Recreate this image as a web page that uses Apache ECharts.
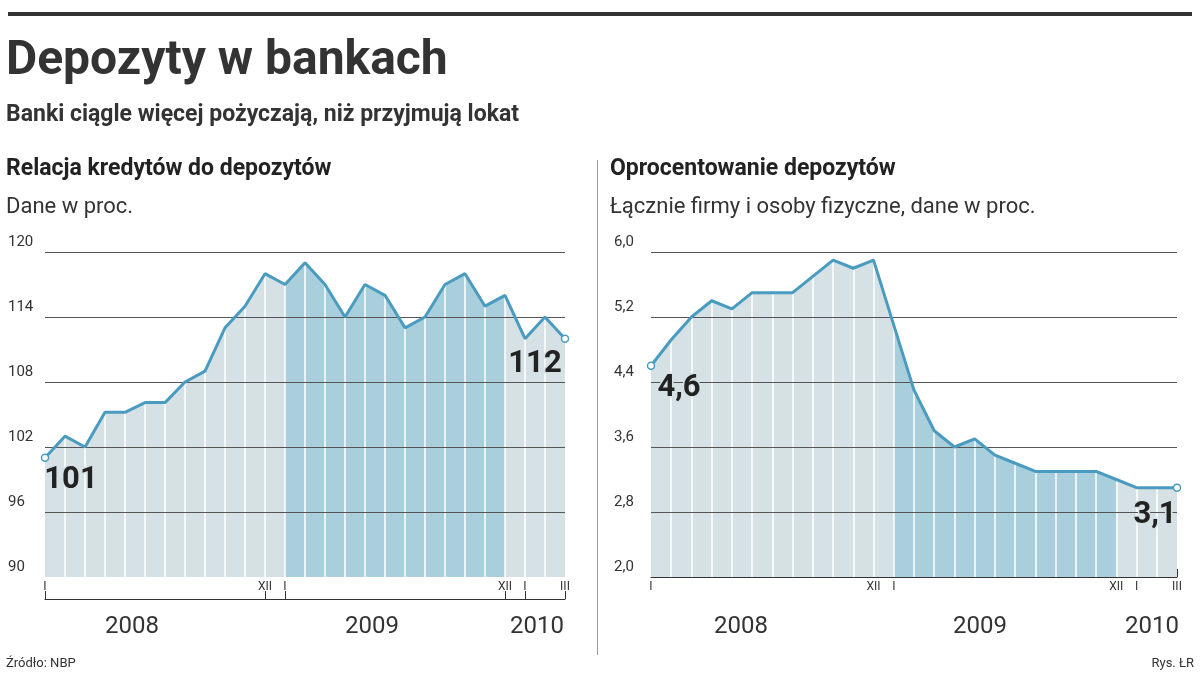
<!DOCTYPE html>
<html><head><meta charset="utf-8">
<script src="https://cdn.jsdelivr.net/npm/echarts@6/dist/echarts.min.js"></script>
<style>html,body{margin:0;padding:0;background:#fff}#c{width:1200px;height:683px}</style>
</head><body><div id="c"></div>
<script>
const months = ['I','II','III','IV','V','VI','VII','VIII','IX','X','XI','XII','I','II','III','IV','V','VI','VII','VIII','IX','X','XI','XII','I','II','III'];
const shownTicks = {0:'I',11:'XII',12:'I',23:'XII',24:'I',26:'III'};
const years = ['2008','2009','2010'];
const ratio = [101,103,102,105.2,105.2,106.1,106.1,108,109,113,115,118,117,119,117,114,117,116,113,114,117,118,115,116,112,114,112];
const rate = [4.6,4.92,5.2,5.4,5.3,5.5,5.5,5.5,5.7,5.9,5.8,5.9,5.1,4.3,3.8,3.6,3.7,3.5,3.4,3.3,3.3,3.3,3.3,3.2,3.1,3.1,3.1];
const leftTicks = [90,96,102,108,114,120];
const rightTicks = [2.0,2.8,3.6,4.4,5.2,6.0];

const LINE='#4a9bc0', LIGHT='#d5e1e4', DARK='#a9cfdc';
const fmt = v => String(v).replace('.',',');
const toR = v => (v-2)/0.8;
const idx = months.map((m,i)=>i);
function seriesSet(gi, data, lastLabel, firstLabel){
  const n=data.length;
  return [
    {type:'line',xAxisIndex:gi,yAxisIndex:gi,data:data,symbol:'none',lineStyle:{width:0},areaStyle:{color:LIGHT,opacity:1},z:1,silent:true},
    {type:'line',xAxisIndex:gi,yAxisIndex:gi,data:data.map((v,i)=>(i>=12&&i<=23)?v:null),symbol:'none',lineStyle:{width:0},
      areaStyle:{color:DARK,opacity:1},z:2,silent:true,
      markLine:{silent:true,symbol:'none',label:{show:false},lineStyle:{color:'#fff',width:1.5,type:'solid'},data:idx.slice(1,n-1).map(i=>({xAxis:i}))}},
    {type:'line',xAxisIndex:gi,yAxisIndex:gi,data:data.map(()=>null),z:3,
      markLine:{silent:true,symbol:'none',label:{show:false},lineStyle:{color:'#555',width:1,type:'solid'},
        data:(gi===0?leftTicks.slice(1):rightTicks.slice(1).map(toR)).map(v=>({yAxis:v}))}},
    {type:'line',xAxisIndex:gi,yAxisIndex:gi,data:data,z:5,lineStyle:{color:LINE,width:3},
      symbol:(v,p)=>(p.dataIndex===0||p.dataIndex===n-1)?'circle':'none',symbolSize:7,
      itemStyle:{color:'#fff',borderColor:LINE,borderWidth:1.5},
      markPoint:{symbol:'circle',symbolSize:0,data:[
        {coord:[0,data[0]],label:{show:true,formatter:firstLabel,fontSize:31,fontWeight:'bold',color:'#222',fontFamily:'Roboto',
           offset:gi===0?[26,22]:[28,22],textBorderColor:LIGHT,textBorderWidth:3}},
        {coord:[n-1,data[n-1]],label:{show:true,formatter:lastLabel,fontSize:31,fontWeight:'bold',color:'#222',fontFamily:'Roboto',
           offset:gi===0?[-30,26]:[-22,28],textBorderColor:LIGHT,textBorderWidth:3}}]}}
  ];
}
const xa = (gi)=>({type:'category',gridIndex:gi,data:months,boundaryGap:false,
  axisLine:{show:true,lineStyle:{color:'#333',width:1}},
  axisTick:{show:true,interval:(i)=>shownTicks[i]!==undefined,length:-8,lineStyle:{color:'#333'}},
  axisLabel:{interval:(i)=>shownTicks[i]!==undefined,formatter:(v,i)=>shownTicks[i]||'',fontSize:12,color:'#333',margin:-6,verticalAlign:'bottom'},
  offset:22});
const chart=echarts.init(document.getElementById('c'));
chart.setOption({
  animation:false,
  textStyle:{fontFamily:'Roboto'},
  grid:[{left:45,width:520,top:252,height:325},{left:651,width:526,top:252,height:325}],
  xAxis:[xa(0),xa(1)],
  yAxis:[
    {type:'value',gridIndex:0,min:90,max:120,interval:6,splitLine:{show:false},axisLine:{show:false},axisTick:{show:false},
     axisLabel:{fontSize:15,color:'#333',align:'left',verticalAlign:'bottom',margin:37,padding:[0,0,2,0]}},
    {type:'value',gridIndex:1,min:0,max:5,interval:1,splitLine:{show:false},axisLine:{show:false},axisTick:{show:false},
     axisLabel:{fontSize:15,color:'#333',align:'left',verticalAlign:'bottom',margin:37,padding:[0,0,2,0],formatter:v=>fmt((2+v*0.8).toFixed(1))}}
  ],
  series:[...seriesSet(0,ratio,'112','101'),...seriesSet(1,rate.map(toR),'3,1','4,6')],
  graphic:[
    {type:'rect',shape:{x:8,y:12,width:1184,height:4},style:{fill:'#333'}},
    {type:'text',left:6,top:38,style:{text:'Depozyty w bankach',font:'bold 48px "Liberation Sans Narrow", Roboto',fill:'#333'}},
    {type:'text',left:6,top:104,style:{text:'Banki ciągle więcej pożyczają, niż przyjmują lokat',font:'bold 23px Roboto',fill:'#333'}},
    {type:'text',left:6,top:158,style:{text:'Relacja kredytów do depozytów',font:'bold 23px Roboto',fill:'#222'}},
    {type:'text',left:6,top:196,style:{text:'Dane w proc.',font:'22px Roboto',fill:'#333'}},
    {type:'text',left:610,top:158,style:{text:'Oprocentowanie depozytów',font:'bold 23px Roboto',fill:'#222'}},
    {type:'text',left:610,top:196,style:{text:'Łącznie firmy i osoby fizyczne, dane w proc.',font:'22px Roboto',fill:'#333'}},
    {type:'rect',shape:{x:597,y:160,width:1,height:495},style:{fill:'#999'}},
    {type:'text',left:6,top:657,style:{text:'Źródło: NBP',font:'13px Roboto',fill:'#333'}},
    {type:'text',right:6,top:657,style:{text:'Rys. ŁR',font:'13px Roboto',fill:'#333'}},
    {type:'text',left:105,top:615,style:{text:years[0],font:'24px Roboto',fill:'#333'}},
    {type:'text',left:345,top:615,style:{text:years[1],font:'24px Roboto',fill:'#333'}},
    {type:'text',left:510,top:615,style:{text:years[2],font:'24px Roboto',fill:'#333'}},
    {type:'text',left:714,top:615,style:{text:years[0],font:'24px Roboto',fill:'#333'}},
    {type:'text',left:953,top:615,style:{text:years[1],font:'24px Roboto',fill:'#333'}},
    {type:'text',left:1125,top:615,style:{text:years[2],font:'24px Roboto',fill:'#333'}}
  ]
});
</script></body></html>
